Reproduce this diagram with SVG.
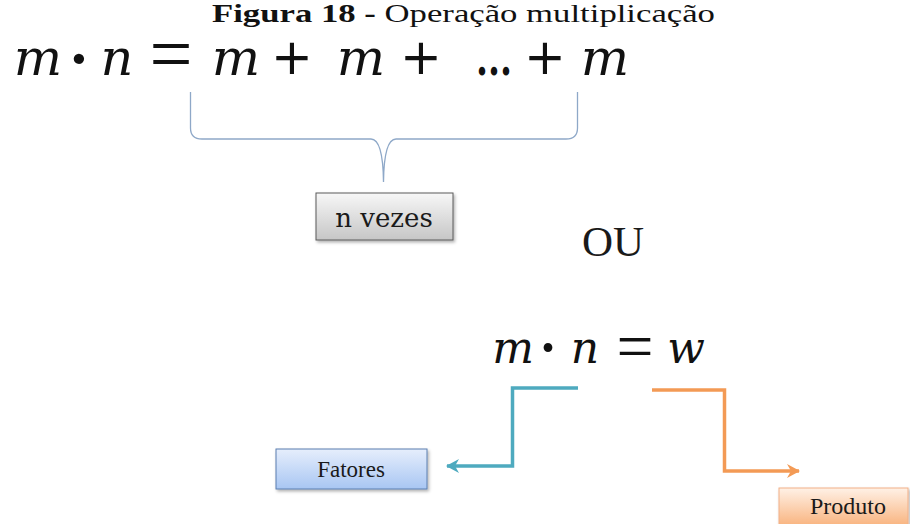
<svg xmlns="http://www.w3.org/2000/svg" width="910" height="524" viewBox="0 0 910 524">
<style>
.title{font-family:"Liberation Serif","Times New Roman",serif;font-size:26px;fill:#111}
.mi{font-family:"DejaVu Serif",serif;font-style:italic;fill:#111;text-anchor:middle}
.op{font-family:"Liberation Serif",serif;fill:#111;text-anchor:middle}
.plus{font-family:"DejaVu Sans",sans-serif;fill:#111;text-anchor:middle;font-size:50px}
.lbl{font-family:"Liberation Serif","Times New Roman",serif;fill:#1a1a1a;text-anchor:middle}
.brace{fill:none;stroke:#8ea8c8;stroke-width:1.3}
.conn{fill:none;stroke-width:3.5;stroke-linejoin:miter}
</style>
<defs>
<linearGradient id="gGray" x1="0" y1="0" x2="0" y2="1"><stop offset="0" stop-color="#f7f7f7"/><stop offset="1" stop-color="#c6c6c6"/></linearGradient>
<linearGradient id="gBlue" x1="0" y1="0" x2="0" y2="1"><stop offset="0" stop-color="#e6eefc"/><stop offset="1" stop-color="#a8c6f3"/></linearGradient>
<linearGradient id="gOrange" x1="0" y1="0" x2="0" y2="1"><stop offset="0" stop-color="#fff1e6"/><stop offset="1" stop-color="#f8b079"/></linearGradient>
<filter id="sh" x="-10%" y="-10%" width="130%" height="140%"><feDropShadow dx="1.5" dy="2" stdDeviation="1.5" flood-color="#000" flood-opacity="0.3"/></filter>
<marker id="aTeal" markerUnits="userSpaceOnUse" markerWidth="16" markerHeight="16" refX="12" refY="7" orient="auto"><path d="M0,0 L13,7 L0,14 L4,7 Z" fill="#4eaabf"/></marker>
<marker id="aOrange" markerUnits="userSpaceOnUse" markerWidth="16" markerHeight="16" refX="12" refY="7" orient="auto"><path d="M0,0 L13,7 L0,14 L4,7 Z" fill="#f39a55"/></marker>
</defs>
<rect width="910" height="524" fill="#fff"/>

<g id="title"><text class="title" x="212" y="22" textLength="503" lengthAdjust="spacingAndGlyphs"><tspan font-weight="bold">Figura 18 -</tspan> Operação multiplicação</text></g>

<g id="eq1">
<text class="mi" x="38" y="75" font-size="51">m</text>
<text class="op" x="79" y="80" font-size="64" font-weight="bold">·</text>
<text class="mi" x="117" y="75" font-size="51">n</text>
<text class="op" x="171" y="81" font-size="80" textLength="43" lengthAdjust="spacingAndGlyphs">=</text>
<text class="mi" x="236" y="75" font-size="51">m</text>
<text class="plus" x="292" y="74">+</text>
<text class="mi" x="361" y="75" font-size="51">m</text>
<text class="plus" x="421" y="74">+</text>
<text class="op" x="494" y="75" font-size="46" font-weight="bold" style="font-family:'DejaVu Serif',serif" textLength="36" lengthAdjust="spacingAndGlyphs">...</text>
<text class="plus" x="545" y="74">+</text>
<text class="mi" x="605" y="75" font-size="51">m</text>
</g>

<g id="brace"><path class="brace" d="M190.5,92 V128 Q190.5,139 202,139 H371 Q383,139 383.5,182 Q384,139 396,139 H566 Q577.5,139 577.5,128 V92"/></g>

<g id="n-vezes"><rect x="316" y="193" width="137" height="47" fill="url(#gGray)" stroke="#5a5a5a" stroke-width="1" filter="url(#sh)"/>
<text x="384" y="227" font-size="26" style="font-family:'DejaVu Serif',serif;fill:#1a1a1a;text-anchor:middle">n vezes</text></g>

<g id="ou"><text class="lbl" x="613" y="256" font-size="43">OU</text></g>

<g id="eq2">
<text class="mi" x="513" y="363" font-size="44">m</text>
<text class="op" x="548" y="366" font-size="54" font-weight="bold">·</text>
<text class="mi" x="585" y="363" font-size="44">n</text>
<text class="op" x="635" y="369" font-size="68" textLength="37" lengthAdjust="spacingAndGlyphs">=</text>
<text class="mi" x="686" y="363" font-size="44">w</text>
</g>

<g id="connectors">
<path class="conn" stroke="#4eaabf" d="M578,388 H512.5 V466 H447" marker-end="url(#aTeal)"/>
<path class="conn" stroke="#f39a55" d="M652,390 H724.5 V471 H799" marker-end="url(#aOrange)"/>
</g>

<g id="fatores"><rect x="276" y="449" width="151" height="40" fill="url(#gBlue)" stroke="#5b7fb0" stroke-width="1" filter="url(#sh)"/>
<text class="lbl" x="351" y="477" font-size="23">Fatores</text></g>

<g id="produto"><rect x="779" y="488" width="129" height="40" fill="url(#gOrange)" stroke="#f1b088" stroke-width="1" filter="url(#sh)"/>
<text class="lbl" x="848" y="514" font-size="24">Produto</text></g>
</svg>
